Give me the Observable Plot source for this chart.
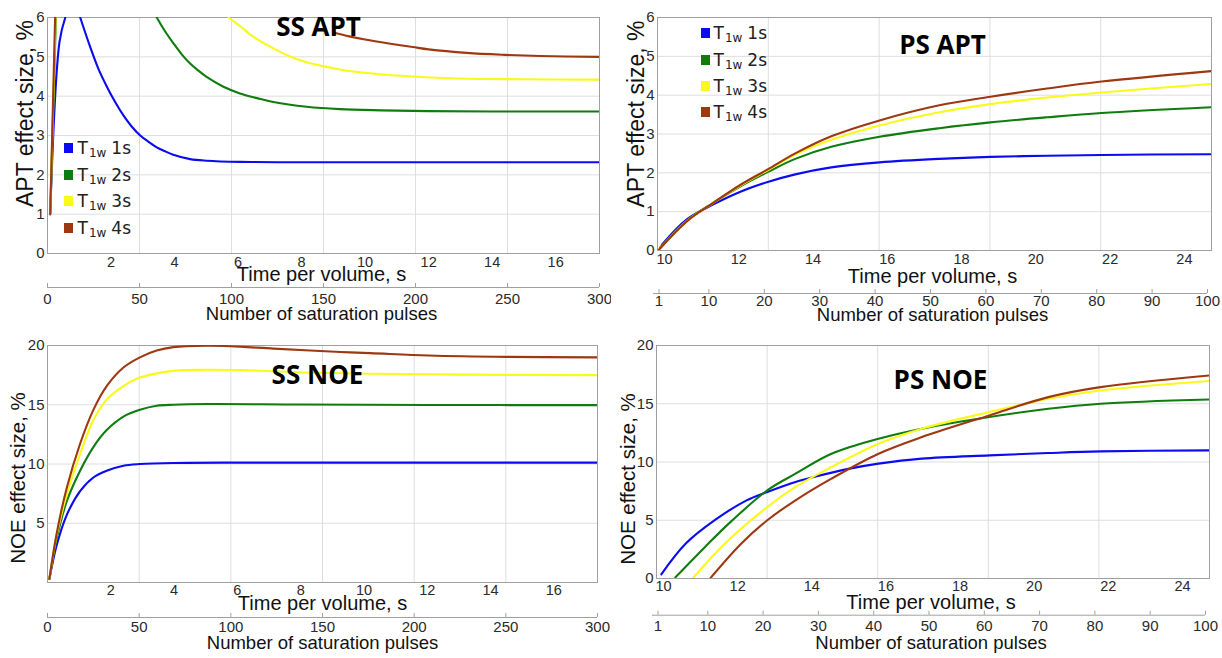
<!DOCTYPE html>
<html>
<head>
<meta charset="utf-8">
<script src="https://cdn.jsdelivr.net/npm/d3@7"></script>
<script src="https://cdn.jsdelivr.net/npm/@observablehq/plot@0.6"></script>
<style>
  html, body { margin: 0; padding: 0; background: #fff; }
  #grid { display: grid; grid-template-columns: 611px 611px; grid-template-rows: 329px 329px; width: 1222px; height: 658px; overflow: hidden; }
  .panel { position: relative; width: 611px; height: 329px; }
  .panel svg { display: block; }
  .legend { position: absolute; left: 0; top: 0; font-family: "DejaVu Sans", sans-serif; font-size: 17px; color: #222; }
  .legend .row { position: absolute; height: 20px; display: flex; align-items: center; white-space: nowrap; }
  .legend .sw { width: 9px; height: 10px; display: inline-block; }
  .legend sub { font-size: 12px; position: relative; top: 3px; vertical-align: baseline; margin-left: 1px; margin-right: 5px; }
</style>
</head>
<body>
<div id="grid"></div>
<script>
// ---------- series ----------
const seriesNames = ["T1w 1s", "T1w 2s", "T1w 3s", "T1w 4s"];
const seriesColors = ["#0b0bf0", "#0e7d0e", "#f9f91a", "#9d3810"];
const legendValues = ["1s", "2s", "3s", "4s"];

// ---------- axes / ticks ----------
const ssTimeDomain = [0, 17.38];      // time per volume, s (SS)
const psTimeDomain = [9.81, 24.73];   // time per volume, s (PS)
const ssPulseSpan = [0, 300];         // saturation pulses spanning the SS axis
const psPulseSpan = [0, 100];         // saturation pulses spanning the PS axis
const ssTimeTicks = [2, 4, 6, 8, 10, 12, 14, 16];
const psTimeTicks = [10, 12, 14, 16, 18, 20, 22, 24];
const ssPulseTicks = [0, 50, 100, 150, 200, 250, 300];
const psPulseTicks = [1, 10, 20, 30, 40, 50, 60, 70, 80, 90, 100];
const ssPulseGrid = [50, 100, 150, 200, 250];
const psPulseGrid = [20, 40, 60, 80];
const aptYDomain = [0, 6];
const noeYDomain = [0, 20];
const aptYTicks = [0, 1, 2, 3, 4, 5, 6];
const aptYGrid = [1, 2, 3, 4, 5];
const ssNoeYTicks = [5, 10, 15, 20];
const psNoeYTicks = [0, 5, 10, 15, 20];
const noeYGrid = [5, 10, 15];

// ---------- data: [time per volume (s), effect size (%)]; NaN = hidden part ----------
const ssAptBlue = [[0.085,1.0],[0.38,5.39],[0.56,6.0],[0.8,NaN],[1.03,6.0],[1.34,5.26],[1.6,4.7],[1.87,4.24],[2.13,3.85],[2.39,3.51],[2.65,3.23],[2.92,3.0],[3.18,2.84],[3.44,2.7],[3.7,2.6],[3.96,2.51],[4.49,2.4],[5.01,2.36],[6.06,2.33],[8,2.32],[12,2.32],[17.38,2.32]];
const ssAptGreen = [[0.085,1.0],[0.265,6.0],[1,NaN],[3.44,6.0],[3.7,5.65],[3.96,5.35],[4.22,5.07],[4.49,4.83],[4.75,4.65],[5.01,4.49],[5.54,4.24],[6.06,4.07],[6.6,3.95],[7.11,3.85],[8.16,3.73],[9.2,3.67],[10.5,3.64],[12,3.62],[14,3.61],[17.38,3.61]];
const ssAptYellow = [[0.085,1.0],[0.255,6.0],[1,NaN],[5.7,6.0],[6.06,5.78],[6.5,5.5],[7.1,5.22],[7.6,5.02],[8.16,4.86],[8.7,4.76],[9.2,4.68],[10.3,4.57],[11.5,4.5],[13,4.45],[15,4.43],[17.38,4.42]];
const ssAptBrown = [[0.085,1.0],[0.24,6.0],[1,NaN],[9.0,5.62],[9.5,5.52],[10,5.44],[10.75,5.34],[11.5,5.25],[12,5.19],[13.2,5.1],[14.4,5.05],[15.5,5.02],[17.38,5.0]];

const psAptBlue = [[9.93,0.15],[10.6,0.8],[11.3,1.18],[12.06,1.52],[12.8,1.77],[13.52,1.96],[14.49,2.14],[15.79,2.27],[17.4,2.36],[18.78,2.41],[20.3,2.44],[21.77,2.46],[24.73,2.48]];
const psAptGreen = [[9.88,0.08],[10.6,0.77],[11.3,1.22],[12.06,1.66],[12.8,2.03],[13.52,2.36],[14.49,2.67],[15.79,2.93],[17.4,3.15],[18.78,3.3],[20.3,3.43],[21.77,3.54],[24.73,3.69]];
const psAptYellow = [[9.85,0.02],[10.6,0.76],[11.3,1.22],[12.06,1.68],[12.8,2.08],[13.52,2.47],[14.49,2.85],[15.79,3.22],[17.4,3.56],[18.78,3.77],[20.3,3.94],[21.77,4.07],[24.73,4.29]];
const psAptBrown = [[9.83,0.0],[10.6,0.75],[11.3,1.22],[12.06,1.7],[12.8,2.1],[13.52,2.5],[14.49,2.94],[15.79,3.35],[17.4,3.74],[18.78,3.96],[20.3,4.17],[21.77,4.35],[24.73,4.62]];

const ssNoeBlue = [[0.06,0.3],[0.29,3.14],[0.61,5.71],[1.03,7.71],[1.45,8.86],[1.87,9.43],[2.4,9.86],[2.92,10.0],[3.98,10.09],[6,10.12],[10,10.12],[17.38,10.12]];
const ssNoeGreen = [[0.06,0.3],[0.29,3.71],[0.61,6.86],[1.03,9.43],[1.45,11.43],[1.87,12.86],[2.4,14.0],[2.92,14.57],[3.45,14.91],[3.98,15.0],[5.03,15.06],[8,15.02],[12,14.98],[17.38,14.97]];
const ssNoeYellow = [[0.06,0.3],[0.29,4.0],[0.61,7.43],[1.03,10.86],[1.45,13.71],[1.87,15.43],[2.4,16.57],[2.92,17.29],[3.98,17.86],[5.03,17.95],[6.09,17.92],[7.14,17.83],[8.2,17.72],[10.2,17.62],[13.3,17.54],[17.38,17.5]];
const ssNoeBrown = [[0.06,0.3],[0.29,4.14],[0.61,8.0],[1.03,11.71],[1.45,14.57],[1.87,16.57],[2.4,18.14],[2.92,19.0],[3.45,19.57],[3.98,19.86],[5.03,19.98],[5.77,19.94],[7.14,19.74],[8.3,19.58],[9.25,19.45],[10.2,19.36],[12.04,19.16],[14.5,19.04],[17.38,19.0]];

const psNoeBlue = [[9.94,0.36],[10.6,3.0],[11.4,5.05],[12.24,6.71],[12.8,7.43],[13.56,8.29],[14.05,8.71],[15.02,9.43],[15.8,9.86],[16.97,10.29],[18.79,10.57],[20.38,10.77],[21.79,10.91],[24.73,11.0]];
const psNoeGreen = [[10.32,0.1],[11.12,2.71],[11.81,4.86],[12.8,7.57],[13.56,9.0],[14.53,10.71],[15.8,12.0],[16.97,12.86],[18.79,13.86],[20.38,14.57],[21.79,15.0],[24.73,15.36]];
const psNoeYellow = [[10.8,0.05],[11.61,2.86],[12.8,6.14],[13.56,7.86],[14.53,9.57],[15.8,11.57],[16.97,12.86],[18.79,14.29],[20.38,15.43],[21.79,16.14],[24.73,16.96]];
const psNoeBrown = [[11.27,0.05],[12.1,3.0],[12.8,5.0],[13.56,6.71],[14.53,8.57],[15.8,10.71],[16.97,12.14],[18.79,14.0],[20.38,15.57],[21.79,16.43],[24.73,17.43]];

// ---------- helpers ----------
const W = 611, H = 329;
const FONT = "'Liberation Sans', Arial, Helvetica, sans-serif";

function pulseMap(timeDomain, pulseSpan) {
  const k = (timeDomain[1] - timeDomain[0]) / (pulseSpan[1] - pulseSpan[0]);
  return p => timeDomain[0] + (p - pulseSpan[0]) * k;
}

function toRows(seriesList) {
  const rows = [];
  seriesList.forEach((pts, i) => pts.forEach(([t, v]) => rows.push({t, v, s: seriesNames[i]})));
  return rows;
}

function makePanel(cfg) {
  const toTime = pulseMap(cfg.timeDomain, cfg.pulseSpan);
  const fh = H - cfg.mt - cfg.mb;
  const o = cfg.off;
  return Plot.plot({
    width: W, height: H,
    marginLeft: cfg.ml, marginRight: cfg.mr, marginTop: cfg.mt, marginBottom: cfg.mb,
    style: {fontFamily: FONT, background: "#fff", overflow: "visible"},
    x: {domain: cfg.timeDomain, axis: null},
    y: {domain: cfg.yDomain},
    color: {domain: seriesNames, range: seriesColors},
    marks: [
      Plot.gridX(cfg.pulseGrid.map(toTime), {stroke: "#dedede", strokeOpacity: 1}),
      Plot.gridY(cfg.yGrid, {stroke: "#dedede", strokeOpacity: 1}),
      Plot.frame({stroke: "#a0a0a0"}),
      Plot.axisY(cfg.yTicks, {tickSize: 0, tickPadding: 3, fontSize: 15, fill: "#2a2a2a", label: null}),
      Plot.line(toRows(cfg.series), {x: "t", y: "v", stroke: "s", strokeWidth: 2.1, curve: "catmull-rom", clip: true}),
      // time per volume axis
      Plot.text(cfg.timeTicks, {x: d => d, frameAnchor: "bottom", dy: o[0], fontSize: 14.5, fill: "#2a2a2a"}),
      Plot.text(["Time per volume, s"], {frameAnchor: "bottom", dy: o[1], dx: cfg.tdx, fontSize: 20, fill: "#111"}),
      // number of saturation pulses axis
      Plot.ruleY([cfg.yDomain[0]], {dy: o[2], dx: cfg.pdx, stroke: "#a0a0a0"}),
      Plot.ruleX(cfg.pulseTicks.map(toTime), {insetTop: fh - 4, dy: o[2], dx: cfg.pdx, stroke: "#a0a0a0"}),
      Plot.text(cfg.pulseTicks, {x: d => toTime(d), text: d => String(d), frameAnchor: "bottom", dy: o[3], dx: cfg.pdx, fontSize: 15, fill: "#2a2a2a"}),
      Plot.text(["Number of saturation pulses"], {frameAnchor: "bottom", dy: o[4], dx: cfg.tdx, fontSize: 18.5, fill: "#111"}),
      // y label
      Plot.text([cfg.yLabel], {frameAnchor: "left", textAnchor: "middle", rotate: -90, dx: cfg.ylx, dy: cfg.yly, fontSize: cfg.ylSize, fill: "#111"}),
      // panel title
      Plot.text([cfg.title], {frameAnchor: "top", lineAnchor: "top", dx: cfg.ttx, dy: cfg.tty, fontSize: 26, fontWeight: 700, fontFamily: "'Open Sans', sans-serif", fill: "#000"})
    ]
  });
}

function addLegend(div, x, rowsY, gap) {
  const lg = document.createElement("div");
  lg.className = "legend";
  seriesNames.forEach((name, i) => {
    const r = document.createElement("div");
    r.className = "row";
    r.style.left = (x - 4.5) + "px";
    r.style.top = (rowsY[i] - 10) + "px";
    r.innerHTML = `<span class="sw" style="background:${seriesColors[i]}"></span>` +
      `<span style="margin-left:${gap}px">T<sub>1w</sub>${legendValues[i]}</span>`;
    lg.appendChild(r);
  });
  div.appendChild(lg);
}

const panels = [
  {title: "SS APT", yLabel: "APT effect size, %", ylSize: 23, series: [ssAptBlue, ssAptGreen, ssAptYellow, ssAptBrown],
   timeDomain: ssTimeDomain, pulseSpan: ssPulseSpan, timeTicks: ssTimeTicks, pulseTicks: ssPulseTicks, pulseGrid: ssPulseGrid,
   yDomain: aptYDomain, yTicks: aptYTicks, yGrid: aptYGrid,
   ml: 47, mr: 12, mt: 17, mb: 76, off: [13.5, 27.5, 34, 50, 66], pdx: 0, tdx: -2,
   ylx: -22, yly: -22, ttx: -5, tty: 0, legend: {x: 68, rows: [148, 175, 201, 228], gap: 5}},
  {title: "PS APT", yLabel: "APT effect size, %", ylSize: 23, series: [psAptBlue, psAptGreen, psAptYellow, psAptBrown],
   timeDomain: psTimeDomain, pulseSpan: psPulseSpan, timeTicks: psTimeTicks, pulseTicks: psPulseTicks, pulseGrid: psPulseGrid,
   yDomain: aptYDomain, yTicks: aptYTicks, yGrid: aptYGrid,
   ml: 46, mr: 11, mt: 17, mb: 79, off: [13, 32, 43, 55, 70], pdx: -4, tdx: -2,
   ylx: -21, yly: -20, ttx: 8, tty: 18, legend: {x: 94, rows: [33, 60, 86, 112], gap: 4}},
  {title: "SS NOE", yLabel: "NOE effect size, %", ylSize: 20.5, series: [ssNoeBlue, ssNoeGreen, ssNoeYellow, ssNoeBrown],
   timeDomain: ssTimeDomain, pulseSpan: ssPulseSpan, timeTicks: ssTimeTicks, pulseTicks: ssPulseTicks, pulseGrid: ssPulseGrid,
   yDomain: noeYDomain, yTicks: ssNoeYTicks, yGrid: noeYGrid,
   ml: 47, mr: 14, mt: 16, mb: 76, off: [12.8, 27, 35, 49.3, 66.6], pdx: 0, tdx: 0,
   ylx: -29.5, yly: 14, ttx: -5, tty: 20, legend: null},
  {title: "PS NOE", yLabel: "NOE effect size, %", ylSize: 20.5, series: [psNoeBlue, psNoeGreen, psNoeYellow, psNoeBrown],
   timeDomain: psTimeDomain, pulseSpan: psPulseSpan, timeTicks: psTimeTicks, pulseTicks: psPulseTicks, pulseGrid: psPulseGrid,
   yDomain: noeYDomain, yTicks: psNoeYTicks, yGrid: noeYGrid,
   ml: 45, mr: 13, mt: 16, mb: 80, off: [12.7, 30, 36.7, 52.7, 70], pdx: -4, tdx: -2,
   ylx: -28.5, yly: 17, ttx: 7.5, tty: 25, legend: null}
];

const grid = document.getElementById("grid");
panels.forEach(cfg => {
  const div = document.createElement("div");
  div.className = "panel";
  div.appendChild(makePanel(cfg));
  if (cfg.legend) addLegend(div, cfg.legend.x, cfg.legend.rows, cfg.legend.gap);
  grid.appendChild(div);
});
</script>
</body>
</html>
